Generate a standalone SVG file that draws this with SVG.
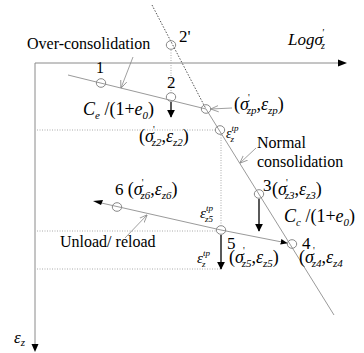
<svg xmlns="http://www.w3.org/2000/svg" width="364" height="353" viewBox="0 0 364 353" font-family="'Liberation Serif', 'Times New Roman', serif">
<defs>
<style>
text{font-family:'Liberation Serif','Times New Roman',serif;fill:#000}
.t16{font-size:16px}
.m{font-size:18px}
.i{font-style:italic}
.sb{font-size:11px;font-style:italic}
.sp{font-size:10px}
.axis{stroke:#8a8a8a;stroke-width:1;fill:none}
.ln{stroke:#9a9a9a;stroke-width:1;fill:none}
.dot{stroke:#aaaaaa;stroke-width:1;stroke-dasharray:1 1.5;fill:none}
.ddot{stroke:#555;stroke-width:1;stroke-dasharray:1.5 1.5;fill:none}
.pt{stroke:#888;stroke-width:1;fill:none}
.blk{stroke:#000;stroke-width:1.3;fill:none}
.ptr{stroke:#888;stroke-width:0.8;fill:none}
</style>
<marker id="ah" viewBox="0 0 10 10" refX="9" refY="5" markerWidth="8" markerHeight="8" markerUnits="userSpaceOnUse" orient="auto">
<path d="M0,0 L10,5 L0,10 z" fill="#000"/>
</marker>
<marker id="ahs" viewBox="0 0 10 10" refX="9" refY="5" markerWidth="7" markerHeight="7" markerUnits="userSpaceOnUse" orient="auto">
<path d="M0,1 L10,5 L0,9 z" fill="#000"/>
</marker>
<marker id="open" viewBox="0 0 10 10" refX="9.5" refY="5" markerWidth="8" markerHeight="8" markerUnits="userSpaceOnUse" orient="auto">
<path d="M0,1 L10,5 L0,9" fill="none" stroke="#888" stroke-width="1"/>
</marker>
</defs>
<rect width="364" height="353" fill="#fff"/>

<g id="axes">
<line class="axis" x1="35" y1="63" x2="340" y2="63"/>
<path d="M338,59.5 L347,63 L338,66.5 z" fill="#000"/>
<line class="axis" x1="35" y1="63" x2="35" y2="345"/>
<path d="M31.5,344 L35,352 L38.5,344 z" fill="#000"/>
<text class="i" x="288" y="45" font-size="17">Logσ<tspan class="sp" dy="-9" dx="-1">'</tspan><tspan class="sp" dx="-3" dy="13">z</tspan></text>
<text class="i" x="14" y="343" font-size="17">ε<tspan class="sb" dy="3">z</tspan></text>
</g>

<g id="connectors">
<line class="ddot" x1="152" y1="5" x2="206" y2="109"/>
<line class="ln" x1="206" y1="109" x2="334" y2="315"/>
<line class="ln" x1="68" y1="75" x2="206" y2="109"/>
<polyline class="ln" points="221,230 97,202"/>
<path d="M103,200 L93,201 L101,205 z" fill="#000"/>
<line class="ln" x1="221" y1="230" x2="287" y2="243" marker-end="url(#ahs)"/>
<line class="dot" x1="171" y1="50" x2="171" y2="92"/>
<line class="dot" x1="37" y1="130" x2="215" y2="130"/>
<line class="dot" x1="221" y1="135" x2="221" y2="225"/>
<line class="dot" x1="37" y1="231" x2="216" y2="231"/>
<line class="dot" x1="37" y1="269" x2="222" y2="269"/>
<line class="blk" x1="171" y1="102" x2="171" y2="117" marker-end="url(#ah)"/>
<line class="blk" x1="259" y1="199" x2="259" y2="231" marker-end="url(#ah)"/>
<line class="blk" x1="221" y1="235" x2="221" y2="269" marker-end="url(#ah)"/>
<line class="ptr" x1="133" y1="57" x2="121" y2="88" marker-end="url(#open)"/>
<line class="ptr" x1="232" y1="108" x2="211" y2="109" marker-end="url(#open)"/>
<line class="ptr" x1="256" y1="148" x2="240" y2="163" marker-end="url(#open)"/>
<line class="ptr" x1="125" y1="238" x2="147" y2="215" marker-end="url(#open)"/>
</g>

<g id="p1"><ellipse class="pt" cx="101" cy="83" rx="4.7" ry="4.3"/><text class="t16" x="96" y="73">1</text></g>
<g id="p2p"><ellipse class="pt" cx="171" cy="45" rx="4.7" ry="4.3"/><text x="179" y="42" font-size="17">2'</text></g>
<g id="p2"><ellipse class="pt" cx="171" cy="97" rx="4.7" ry="4.3"/><text x="167" y="88" font-size="17">2</text>
<text class="m" x="139" y="142">(<tspan class="i">σ</tspan><tspan class="sp" dy="-9" dx="-1">'</tspan><tspan class="sb" dx="-3" dy="13">z2</tspan><tspan dy="-4">,</tspan><tspan class="i">ε</tspan><tspan class="sb" dy="4">z2</tspan><tspan dy="-4">)</tspan></text></g>
<g id="pzp"><ellipse class="pt" cx="206" cy="109" rx="4.7" ry="4.3"/>
<text class="m" x="234" y="110">(<tspan class="i">σ</tspan><tspan class="sp" dy="-9" dx="-1">'</tspan><tspan class="sb" dx="-3" dy="13">zp</tspan><tspan dy="-4">,</tspan><tspan class="i">ε</tspan><tspan class="sb" dy="4">zp</tspan><tspan dy="-4">)</tspan></text></g>
<g id="ptp"><ellipse class="pt" cx="220" cy="130" rx="4.7" ry="4.3"/>
<text class="i" x="226" y="138" font-size="14">ε<tspan font-size="9" dy="-7">tp</tspan><tspan font-size="9" dx="-8" dy="11">z</tspan></text></g>
<g id="p3"><ellipse class="pt" cx="259" cy="194" rx="4.7" ry="4.3"/><text x="263" y="191" font-size="17">3</text>
<text class="m" x="272" y="195">(<tspan class="i">σ</tspan><tspan class="sp" dy="-9" dx="-1">'</tspan><tspan class="sb" dx="-3" dy="13">z3</tspan><tspan dy="-4">,</tspan><tspan class="i">ε</tspan><tspan class="sb" dy="4">z3</tspan><tspan dy="-4">)</tspan></text></g>
<g id="p6"><ellipse class="pt" cx="117" cy="207" rx="4.7" ry="4.3"/>
<text class="m" x="115" y="195"><tspan font-size="17">6 </tspan>(<tspan class="i">σ</tspan><tspan class="sp" dy="-9" dx="-1">'</tspan><tspan class="sb" dx="-3" dy="13">z6</tspan><tspan dy="-4">,</tspan><tspan class="i">ε</tspan><tspan class="sb" dy="4">z6</tspan><tspan dy="-4">)</tspan></text></g>
<g id="p5"><ellipse class="pt" cx="221" cy="230" rx="4.7" ry="4.3"/><text x="227" y="249" font-size="17">5</text>
<text class="i" x="200" y="218" font-size="15">ε<tspan font-size="9" dy="-7">tp</tspan><tspan font-size="9" dx="-8" dy="11">z5</tspan></text>
<text class="i" x="197" y="263" font-size="15">ε<tspan font-size="9" dy="-7">tp</tspan><tspan font-size="9" dx="-8" dy="11">z</tspan></text>
<text class="m" x="229" y="263">(<tspan class="i">σ</tspan><tspan class="sp" dy="-9" dx="-1">'</tspan><tspan class="sb" dx="-3" dy="13">z5</tspan><tspan dy="-4">,</tspan><tspan class="i">ε</tspan><tspan class="sb" dy="4">z5</tspan><tspan dy="-4">)</tspan></text></g>
<g id="p4"><ellipse class="pt" cx="292" cy="244" rx="4.7" ry="4.3"/><text x="302" y="249" font-size="17">4</text>
<text class="m" x="299" y="263">(<tspan class="i">σ</tspan><tspan class="sp" dy="-9" dx="-1">'</tspan><tspan class="sb" dx="-3" dy="13">z4</tspan><tspan dy="-4">,</tspan><tspan class="i">ε</tspan><tspan class="sb" dy="4">z4</tspan></text></g>

<g id="labels">
<text class="t16" x="27" y="49">Over-consolidation</text>
<text class="m" x="83" y="115"><tspan class="i">C</tspan><tspan class="sb" dy="4">e</tspan><tspan dy="-4"> /(1+</tspan><tspan class="i">e</tspan><tspan class="sb" dy="4" font-style="normal">0</tspan><tspan dy="-4">)</tspan></text>
<text class="t16" x="257" y="148">Normal</text>
<text class="t16" x="257" y="167">consolidation</text>
<text class="m" x="284" y="222"><tspan class="i">C</tspan><tspan class="sb" dy="4">c</tspan><tspan dy="-4"> /(1+</tspan><tspan class="i">e</tspan><tspan class="sb" dy="4" font-style="normal">0</tspan><tspan dy="-4">)</tspan></text>
<text class="t16" x="60" y="247">Unload/ reload</text>
</g>
</svg>
